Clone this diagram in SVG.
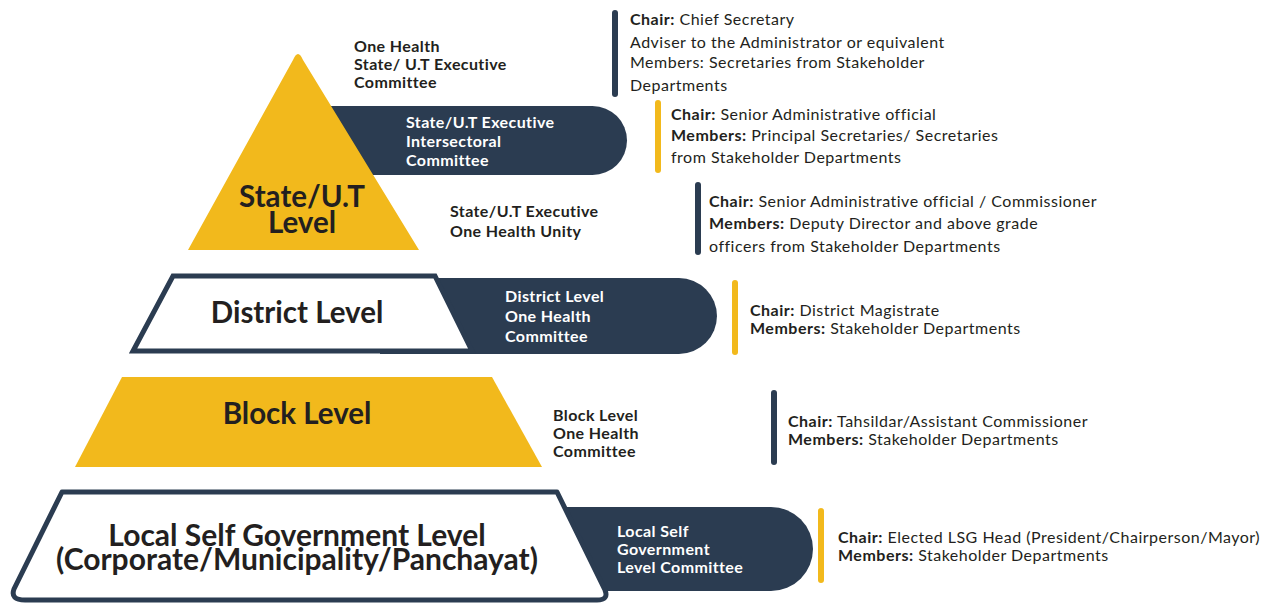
<svg xmlns="http://www.w3.org/2000/svg" width="1273" height="605" viewBox="0 0 1273 605">
<style>
text{font-family:Lato,"Liberation Sans",sans-serif;fill:#231f20}
.b{font-weight:700}
.lbl{font-size:16px;font-weight:700;letter-spacing:0.4px}
.w{fill:#ffffff}
.big{font-size:29.5px;font-weight:700;text-anchor:middle}
.lsgt{font-size:30px}
.inf{font-size:16px;letter-spacing:0.5px}
.navy{fill:#2b3c51}
.yel{fill:#f2b91c}
</style>
<rect width="1273" height="605" fill="#ffffff"/>
<g id="state">
<path class="navy" d="M320,106 L592.5,106 A34.5,34.5 0 0 1 592.5,175 L320,175 Z"/>
<path class="yel" d="M188,250 L293,60 Q298,48 303,60 L419,250 Z"/>
<text class="big"><tspan x="302" y="207">State/U.T</tspan><tspan x="302" y="233">Level</tspan></text>
<text class="lbl" x="354" y="52">One Health</text>
<text class="lbl" x="354" y="70">State/ U.T Executive</text>
<text class="lbl" x="354" y="88">Committee</text>
<text class="lbl w" x="406" y="128">State/U.T Executive</text>
<text class="lbl w" x="406" y="147">Intersectoral</text>
<text class="lbl w" x="406" y="166">Committee</text>
<text class="lbl" x="450" y="217">State/U.T Executive</text>
<text class="lbl" x="450" y="237">One Health Unity</text>
</g>
<g id="district">
<path class="navy" d="M380,278 L679,278 A38,38 0 0 1 679,354 L380,354 Z"/>
<path d="M173,276 L435,276 L472,351 L133,351 Z" fill="#ffffff" stroke="#2b3c51" stroke-width="5"/>
<text class="big" x="297" y="323">District Level</text>
<text class="lbl w" x="505" y="302">District Level</text>
<text class="lbl w" x="505" y="322">One Health</text>
<text class="lbl w" x="505" y="342">Committee</text>
</g>
<g id="block">
<path class="yel" d="M122,377 L492,377 L542,467 L75,467 Z"/>
<text class="big" x="297" y="424">Block Level</text>
<text class="lbl" x="553" y="421">Block Level</text>
<text class="lbl" x="553" y="439">One Health</text>
<text class="lbl" x="553" y="457">Committee</text>
</g>
<g id="lsg">
<path class="navy" d="M520,507 L771,507 A42,42 0 0 1 771,591 L520,591 Z"/>
<path d="M62,492 L557,492 L605,590 Q609,600 597,600 L25,600 Q10,600 14,589 Z" fill="#ffffff" stroke="#2b3c51" stroke-width="5" stroke-linejoin="round"/>
<text class="big lsgt"><tspan x="297" y="546">Local Self Government Level</tspan><tspan x="297" y="570">(Corporate/Municipality/Panchayat)</tspan></text>
<text class="lbl w" x="617" y="537">Local Self</text>
<text class="lbl w" x="617" y="555">Government</text>
<text class="lbl w" x="617" y="573">Level Committee</text>
</g>
<g id="details">
<rect class="navy" x="612" y="10" width="6" height="87" rx="3"/>
<text class="inf" x="630" y="25"><tspan class="b">Chair:</tspan> Chief Secretary</text>
<text class="inf" x="630" y="48">Adviser to the Administrator or equivalent</text>
<text class="inf" x="630" y="68">Members: Secretaries from Stakeholder</text>
<text class="inf" x="630" y="91">Departments</text>
<rect class="yel" x="655" y="100" width="6" height="73" rx="3"/>
<text class="inf" x="671" y="120"><tspan class="b">Chair:</tspan> Senior Administrative official</text>
<text class="inf" x="671" y="141"><tspan class="b">Members:</tspan> Principal Secretaries/ Secretaries</text>
<text class="inf" x="671" y="163">from Stakeholder Departments</text>
<rect class="navy" x="695" y="182" width="6" height="73" rx="3"/>
<text class="inf" x="709" y="207"><tspan class="b">Chair:</tspan> Senior Administrative official / Commissioner</text>
<text class="inf" x="709" y="229"><tspan class="b">Members:</tspan> Deputy Director and above grade</text>
<text class="inf" x="709" y="252">officers from Stakeholder Departments</text>
<rect class="yel" x="732" y="280" width="6" height="75" rx="3"/>
<text class="inf" x="750" y="316"><tspan class="b">Chair:</tspan> District Magistrate</text>
<text class="inf" x="750" y="334"><tspan class="b">Members:</tspan> Stakeholder Departments</text>
<rect class="navy" x="771" y="390" width="6" height="75" rx="3"/>
<text class="inf" x="788" y="427"><tspan class="b">Chair:</tspan> Tahsildar/Assistant Commissioner</text>
<text class="inf" x="788" y="445"><tspan class="b">Members:</tspan> Stakeholder Departments</text>
<rect class="yel" x="818" y="508" width="6" height="75" rx="3"/>
<text class="inf" x="838" y="543"><tspan class="b">Chair:</tspan> Elected LSG Head (President/Chairperson/Mayor)</text>
<text class="inf" x="838" y="561"><tspan class="b">Members:</tspan> Stakeholder Departments</text>
</g>
</svg>
